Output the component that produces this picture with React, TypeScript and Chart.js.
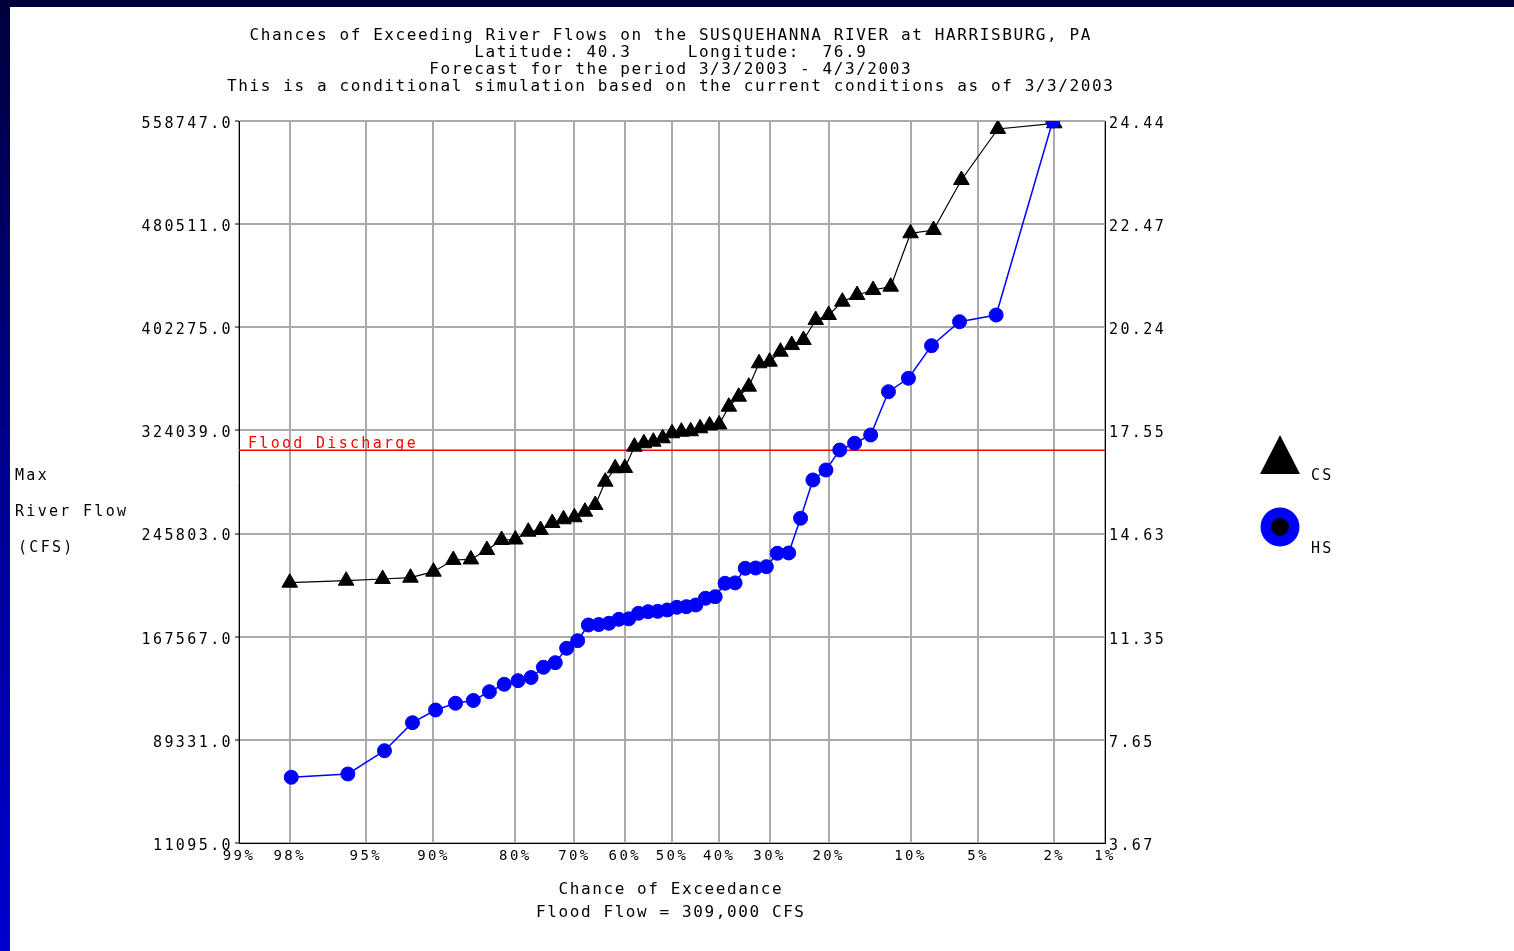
import { useEffect, useRef } from "react";
import { Chart, registerables } from "chart.js";

Chart.register(...registerables);

const TITLE_LINES = [
  "Chances of Exceeding River Flows on the SUSQUEHANNA RIVER at HARRISBURG, PA",
  "Latitude: 40.3     Longitude:  76.9",
  "Forecast for the period 3/3/2003 - 4/3/2003",
  "This is a conditional simulation based on the current conditions as of 3/3/2003",
];
const Y_TITLE = ["Max", "River Flow", "(CFS)"];
const X_TITLE = ["Chance of Exceedance", "Flood Flow = 309,000 CFS"];

const X_TICK_PCT = [99, 98, 95, 90, 80, 70, 60, 50, 40, 30, 20, 10, 5, 2, 1];
const FLOW_TICKS = [11095, 89331, 167567, 245803, 324039, 402275, 480511, 558747];
const STAGE_TICKS = ["3.67", "7.65", "11.35", "14.63", "17.55", "20.24", "22.47", "24.44"];
const FLOOD_FLOW = 309000;
const FLOOD_LABEL = "Flood Discharge";

// CS: conditional simulation (black triangles), chance of exceedance in %
const CS_EXCEED = [
  98, 96, 94, 92, 90, 88, 86, 84, 82, 80,
  78, 76, 74, 72, 70, 68, 66, 64, 62, 60,
  58, 56, 54, 52, 50, 48, 46, 44, 42, 40,
  38, 36, 34, 32, 30, 28, 26, 24, 22, 20,
  18, 16, 14, 12, 10, 8, 6, 4, 2,
];
const CS_FLOW = [
  208550, 210060, 211360, 212340, 216890, 225770, 226200, 233350, 240940, 241300,
  247230, 248520, 253830, 256640, 258150, 262400, 267490, 285160, 295320, 295600,
  311710, 314290, 315500, 318080, 321870, 323090, 323400, 325660, 327800, 328600,
  342050, 349630, 357220, 374970, 376180, 383760, 388850, 392640, 407810, 411600,
  421690, 426770, 430560, 433070, 473570, 476070, 514000, 552680, 557000,
];

// HS: historical simulation (blue circles)
const HS_EXCEED = [
  97.96, 95.92, 93.88, 91.84, 89.8, 87.76, 85.71, 83.67, 81.63, 79.59,
  77.55, 75.51, 73.47, 71.43, 69.39, 67.35, 65.31, 63.27, 61.22, 59.18,
  57.14, 55.1, 53.06, 51.02, 48.98, 46.94, 44.9, 42.86, 40.82, 38.78,
  36.73, 34.69, 32.65, 30.61, 28.57, 26.53, 24.49, 22.45, 20.41, 18.37,
  16.33, 14.29, 12.24, 10.2, 8.16, 6.12, 4.08, 2.04,
];
const HS_FLOW = [
  60950, 63450, 81120, 102360, 111990, 117080, 119200, 125870, 131490, 134220,
  136640, 144380, 147870, 158790, 164560, 176470, 176800, 177760, 180790, 181100,
  185340, 186550, 186800, 187840, 189890, 190350, 191640, 196720, 197930, 208100,
  208400, 219470, 219700, 220690, 230850, 231100, 257400, 286450, 294030, 309200,
  314290, 320580, 353420, 363590, 388320, 406520, 411600, 558747,
];

const FONT = "'DejaVu Sans Mono', 'Liberation Mono', monospace";

// inverse standard normal CDF (Acklam) for the normal-probability x axis
function normInv(p: number): number {
  const a = [-39.69683028665376, 220.9460984245205, -275.9285104469687, 138.357751867269, -30.66479806614716, 2.506628277459239];
  const b = [-54.47609879822406, 161.5858368580409, -155.6989798598866, 66.80131188771972, -13.28068155288572];
  const c = [-0.007784894002430293, -0.3223964580411365, -2.400758277161838, -2.549671750376162, 4.374664141464968, 2.938163982698783];
  const d = [0.007784695709041462, 0.3224671290700398, 2.445134137142996, 3.754408661907416];
  const pl = 0.02425;
  if (p < pl) {
    const q = Math.sqrt(-2 * Math.log(p));
    return (((((c[0] * q + c[1]) * q + c[2]) * q + c[3]) * q + c[4]) * q + c[5]) / ((((d[0] * q + d[1]) * q + d[2]) * q + d[3]) * q + 1);
  }
  if (p > 1 - pl) {
    const q = Math.sqrt(-2 * Math.log(1 - p));
    return -(((((c[0] * q + c[1]) * q + c[2]) * q + c[3]) * q + c[4]) * q + c[5]) / ((((d[0] * q + d[1]) * q + d[2]) * q + d[3]) * q + 1);
  }
  const q = p - 0.5;
  const r = q * q;
  return (((((a[0] * r + a[1]) * r + a[2]) * r + a[3]) * r + a[4]) * r + a[5]) * q / (((((b[0] * r + b[1]) * r + b[2]) * r + b[3]) * r + b[4]) * r + 1);
}
const probX = (pct: number) => normInv(1 - pct / 100);

const decorPlugin = {
  id: "decor",
  beforeLayout(chart: any) {
    chart.ctx.letterSpacing = "2.4px";
  },
  beforeDraw(chart: any) {
    chart.ctx.letterSpacing = "2.4px";
  },
  afterDraw(chart: any) {
    const ctx: CanvasRenderingContext2D = chart.ctx;
    ctx.save();
    const txt = (s: string, x: number, y: number, align: CanvasTextAlign, color: string, size: number, spacing: number) => {
      ctx.font = `${size}px ${FONT}`;
      (ctx as any).letterSpacing = spacing + "px";
      ctx.textAlign = align;
      ctx.textBaseline = "middle";
      ctx.fillStyle = color;
      ctx.fillText(s, align === "center" ? x + spacing / 2 : x, y);
    };
    const TITLE_Y = [36, 53, 70, 87];
    TITLE_LINES.forEach((s, i) => txt(s, 670, TITLE_Y[i], "center", "#000", 16, 1.6));
    const YT = [[15, 476], [15, 512], [18, 548]];
    Y_TITLE.forEach((s, i) => txt(s, YT[i][0], YT[i][1], "left", "#000", 15, 2.3));
    txt(X_TITLE[0], 670, 890, "center", "#000", 16, 1.6);
    txt(X_TITLE[1], 670, 913, "center", "#000", 16, 1.6);

    // flood discharge label
    const ys = chart.scales.y;
    const fy = ys.getPixelForValue(FLOOD_FLOW);
    txt(FLOOD_LABEL, chart.chartArea.left + 9, fy - 6, "left", "#ff0000", 15, 2.3);

    // legend
    const dsCS = chart.data.datasets[1];
    const dsHS = chart.data.datasets[0];
    ctx.fillStyle = "#000";
    ctx.beginPath();
    ctx.moveTo(1280, 435);
    ctx.lineTo(1300, 474);
    ctx.lineTo(1260, 474);
    ctx.closePath();
    ctx.fill();
    txt(dsCS.label, 1311, 476, "left", "#000", 15, 2.2);
    ctx.fillStyle = "#0000ff";
    ctx.beginPath();
    ctx.arc(1280, 527, 19.5, 0, Math.PI * 2);
    ctx.fill();
    ctx.fillStyle = "#000";
    ctx.beginPath();
    ctx.arc(1280, 527, 9, 0, Math.PI * 2);
    ctx.fill();
    txt(dsHS.label, 1311, 549, "left", "#000", 15, 2.2);
    ctx.restore();
  },
};

export default function App() {
  const ref = useRef<HTMLCanvasElement | null>(null);

  useEffect(() => {
    if (!ref.current) return;
    const tickFont = { family: FONT, size: 15 };
    const chart = new Chart(ref.current, {
      type: "scatter",
      data: {
        datasets: [
          {
            label: "HS",
            data: HS_EXCEED.map((p, i) => ({ x: probX(p), y: HS_FLOW[i] })),
            showLine: true,
            borderColor: "#0000ff",
            borderWidth: 1.5,
            backgroundColor: "#0000ff",
            pointBackgroundColor: "#0000ff",
            pointBorderColor: "#0000ff",
            pointBorderWidth: 1,
            pointStyle: "circle",
            pointRadius: 7,
            order: 0,
          },
          {
            label: "CS",
            data: CS_EXCEED.map((p, i) => ({ x: probX(p), y: CS_FLOW[i] })),
            showLine: true,
            borderColor: "#000000",
            borderWidth: 1.2,
            backgroundColor: "#000000",
            pointBackgroundColor: "#000000",
            pointBorderColor: "#000000",
            pointBorderWidth: 1,
            pointStyle: "triangle",
            pointRadius: 9,
            order: 1,
          },
          {
            label: FLOOD_LABEL,
            data: [
              { x: probX(99), y: FLOOD_FLOW },
              { x: probX(1), y: FLOOD_FLOW },
            ],
            showLine: true,
            borderColor: "#ff0000",
            borderWidth: 1.5,
            pointRadius: 0,
            order: 2,
          },
        ],
      },
      options: {
        animation: false,
        responsive: false,
        devicePixelRatio: 1,
        layout: { padding: { left: 0, top: 121, right: 339, bottom: 78 } },
        plugins: {
          legend: { display: false },
          tooltip: { enabled: false },
          title: { display: false },
        },
        scales: {
          x: {
            type: "linear",
            min: probX(99),
            max: probX(1),
            afterBuildTicks: (s: any) => {
              s.ticks = X_TICK_PCT.map((p) => ({ value: probX(p) }));
            },
            afterFit: (s: any) => {
              s.height = 30;
            },
            ticks: {
              autoSkip: false,
              maxRotation: 0,
              minRotation: 0,
              padding: 5,
              color: "#000",
              font: { family: FONT, size: 14 },
              callback: (_v: any, i: number) => X_TICK_PCT[i] + "%",
            },
            grid: { color: "#aaaaaa", lineWidth: 2, drawTicks: false },
            border: { color: "#000", width: 1 },
          },
          y: {
            type: "linear",
            position: "left",
            min: FLOW_TICKS[0],
            max: FLOW_TICKS[FLOW_TICKS.length - 1],
            afterBuildTicks: (s: any) => {
              s.ticks = FLOW_TICKS.map((v) => ({ value: v }));
            },
            afterFit: (s: any) => {
              s.width = 239;
            },
            ticks: {
              padding: 2,
              labelOffset: 3,
              color: "#000",
              font: tickFont,
              callback: (v: any) => Number(v).toFixed(1),
            },
            grid: { color: "#aaaaaa", lineWidth: 2, tickLength: 4, tickColor: "#000", tickWidth: 1 },
            border: { color: "#000", width: 1 },
          },
          y2: {
            type: "linear",
            position: "right",
            min: FLOW_TICKS[0],
            max: FLOW_TICKS[FLOW_TICKS.length - 1],
            afterBuildTicks: (s: any) => {
              s.ticks = FLOW_TICKS.map((v) => ({ value: v }));
            },
            afterFit: (s: any) => {
              s.width = 70;
            },
            ticks: {
              padding: 4,
              labelOffset: 3,
              color: "#000",
              font: tickFont,
              callback: (_v: any, i: number) => STAGE_TICKS[i],
            },
            grid: { drawOnChartArea: false, drawTicks: false },
            border: { color: "#000", width: 1 },
          },
        },
      } as any,
      plugins: [decorPlugin as any],
    });
    return () => chart.destroy();
  }, []);

  return (
    <div
      style={{
        position: "fixed",
        left: 0,
        top: 0,
        width: 1514,
        height: 951,
        background: "linear-gradient(to bottom, #00003c 0%, #000090 50%, #0000d0 100%)",
        overflow: "hidden",
      }}
    >
      <div style={{ position: "absolute", left: 10, top: 7, right: 0, bottom: 0, background: "#ffffff" }} />
      <canvas ref={ref} width={1514} height={951} style={{ position: "absolute", left: 0, top: 0, width: 1514, height: 951 }} />
    </div>
  );
}
